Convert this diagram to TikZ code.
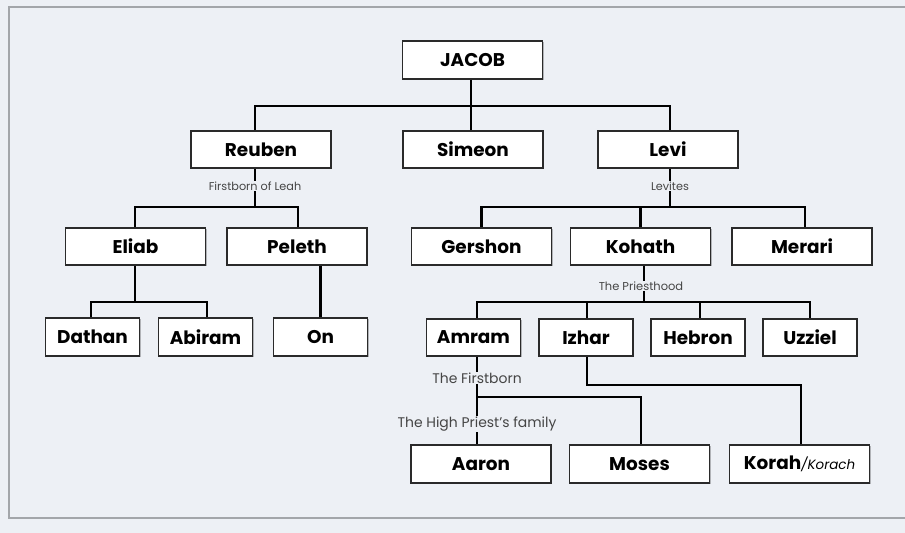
\documentclass[tikz,border=0pt]{standalone}
\usepackage{fontspec}
\setmainfont{Poppins}
\usetikzlibrary{shadows}
\definecolor{paper}{HTML}{EDF0F5}
\definecolor{frameline}{HTML}{A3A6AA}
\definecolor{boxline}{HTML}{2A2A2A}
\definecolor{notegray}{HTML}{454545}
\begin{document}
\begin{tikzpicture}[x=1bp,y=-1bp,
    person/.style={draw=boxline,line width=1.7bp,fill=white,inner sep=0pt,
      minimum width=140bp,minimum height=37.5bp,font=\fontsize{18.5}{20}\selectfont\bfseries,
      drop shadow={shadow xshift=1.2bp,shadow yshift=-1.2bp,opacity=0.25,fill=black}},
    small/.style={person,minimum width=94bp},
    tie/.style={line width=2.6bp,black},
    note/.style={fill=paper,inner sep=0.6bp,text=notegray},
    tiny/.style={note,font=\fontsize{11.3}{12}\selectfont},
    mid/.style={note,font=\fontsize{11.5}{12}\selectfont},
    big/.style={note,font=\fontsize{14}{15}\selectfont}]
  \useasboundingbox (0,0) rectangle (905,533);
  \fill[paper] (0,0) rectangle (905,533);
  \draw[frameline,line width=1.2bp] (9,7) rectangle (910,518);
  % people
  \node[person] (Jacob)   at (472.5, 60  ) {JACOB};
  \node[person] (Reuben)  at (261  ,149.5) {Reuben};
  \node[person] (Simeon)  at (473  ,149.5) {Simeon};
  \node[person] (Levi)    at (668  ,149.5) {Levi};
  \node[person] (Eliab)   at (135.5,246.5) {Eliab};
  \node[person] (Peleth)  at (297  ,246.5) {Peleth};
  \node[person] (Gershon) at (481.5,246.5) {Gershon};
  \node[person] (Kohath)  at (640.5,246.5) {Kohath};
  \node[person] (Merari)  at (802  ,246.5) {Merari};
  \node[small]  (Dathan)  at ( 92.5,337  ) {Dathan};
  \node[small]  (Abiram)  at (205.5,337  ) {Abiram};
  \node[small]  (On)      at (320.5,337  ) {On};
  \node[small]  (Amram)   at (473.5,337.5) {Amram};
  \node[small]  (Izhar)   at (586  ,337.5) {Izhar};
  \node[small]  (Hebron)  at (698  ,337.5) {Hebron};
  \node[small]  (Uzziel)  at (810  ,337.5) {Uzziel};
  \node[person] (Aaron)   at (481  ,464  ) {Aaron};
  \node[person] (Moses)   at (639.5,464  ) {Moses};
  \node[person] (Korah)   at (799.5,464  ) {Korah{\mdseries\itshape\fontsize{13.5}{14}\selectfont/Korach}};
  % branch points
  \coordinate (jbus)  at (471,106);
  \coordinate (rbus)  at (255,207);
  \coordinate (lbus)  at (670,207);
  \coordinate (ebus)  at (135,302);
  \coordinate (kbus)  at (644,302);
  \coordinate (abus)  at (477,397);
  \coordinate (ibend) at (801,385);
  % Jacob
  \draw[tie] (Jacob.south -| jbus) -- (jbus);
  \draw[tie] ([xshift=-6bp]Reuben.north) |- (jbus) -| (Levi.north -| lbus);
  \draw[tie] (Simeon.north -| jbus) -- (jbus);
  % Reuben
  \draw[tie] (Reuben.south -| rbus) -- (rbus);
  \draw[tie] (Eliab.north -| ebus) |- (rbus) -| ([xshift=1bp]Peleth.north);
  \draw[tie] (Eliab.south -| ebus) -- (ebus);
  \draw[tie] ([xshift=-1.5bp]Dathan.north) |- (ebus) -| ([xshift=1.5bp]Abiram.north);
  \draw[tie] (Peleth.south -| On.north) -- (On.north);
  % Levi
  \draw[tie] (Levi.south -| lbus) -- (lbus);
  \draw[tie] (Gershon.north) |- (lbus) -| ([xshift=3bp]Merari.north);
  \draw[tie] (Kohath.north) -- (Kohath.north |- lbus);
  % Kohath
  \draw[tie] (Kohath.south -| kbus) -- (kbus);
  \draw[tie] (Amram.north -| abus) |- (kbus) -| (Uzziel.north);
  \draw[tie] ([xshift=1bp]Izhar.north) -- ([xshift=1bp]Izhar.north |- kbus);
  \draw[tie] ([xshift=2bp]Hebron.north) -- ([xshift=2bp]Hebron.north |- kbus);
  % Amram and Izhar
  \draw[tie] (Amram.south -| abus) -- (Aaron.north -| abus);
  \draw[tie] (abus) -| ([xshift=1.5bp]Moses.north);
  \draw[tie] ([xshift=1bp]Izhar.south) |- (ibend) -- (Korah.north -| ibend);
  % notes
  \node[tiny] (leah)    at (255,186) {Firstborn of Leah};
  \node[tiny] (levites) at (670,186) {Levites};
  \node[mid]  (priests) at (641,286) {The Priesthood};
  \node[big]  (firstborn)  at (477,378) {The Firstborn};
  \node[big]  (highpriest) at (477,424) {The High Priest’s family};
\end{tikzpicture}
\end{document}
